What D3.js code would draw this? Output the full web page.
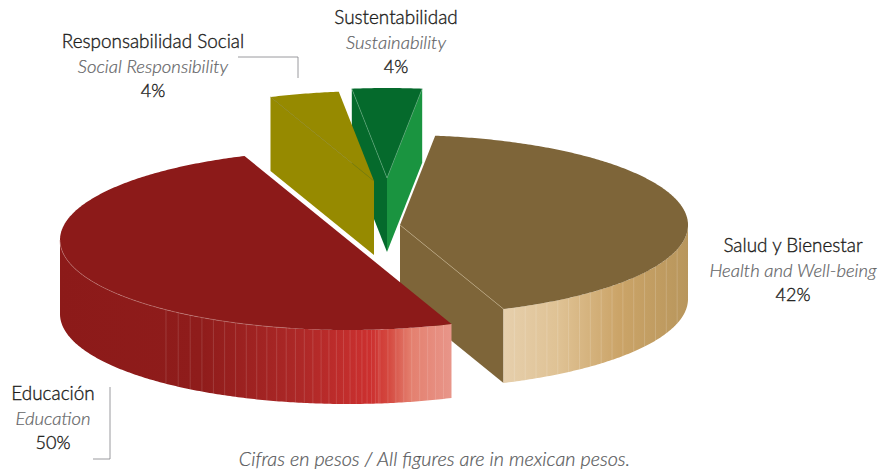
<!DOCTYPE html>
<html>
<head>
<meta charset="utf-8">
<script src="https://cdn.jsdelivr.net/npm/d3@7"></script>
<style>
  html, body { margin: 0; padding: 0; background: #fff; }
  svg { display: block; }
  text { font-family: Lato, "Open Sans", sans-serif; }
  .name { font-size: 18.9px; fill: #1d1d1b; font-weight: 300; stroke: #1d1d1b; stroke-width: 0.35px; }
  .english { font-size: 18.5px; fill: #636466; font-style: italic; font-weight: 300; stroke: #636466; stroke-width: 0.2px; }
  .share { font-size: 18px; fill: #1d1d1b; font-weight: 300; stroke: #1d1d1b; stroke-width: 0.35px; }
  .note { font-size: 19.8px; fill: #58595b; font-style: italic; font-weight: 300; stroke: #58595b; stroke-width: 0.2px; }
</style>
</head>
<body>
<svg id="chart" width="882" height="470"></svg>
<script>
var categories = ["Sustentabilidad", "Salud y Bienestar", "Educación", "Responsabilidad Social"];
var englishNames = ["Sustainability", "Health and Well-being", "Education", "Social Responsibility"];
var shares = [3.9, 42.2, 50, 3.9];
var footNote = "Cifras en pesos / All figures are in mexican pesos.";

// look of the slices
var topColors = ["#056a2c", "#7e6539", "#8c1a19", "#968a00"];
var faceColors = [["#056a2c", "#1a9440"], ["#7e6539", "#7e6539"], ["#8c1a19", "#8c1a19"], ["#968a00", "#968a00"]];
var edgeLines = ["#5fa87a", "#c4b08a", "#8c1a19", "#7f7a10"];
var sliceCenters = [[387, 178], [400, 225], [348, 240], [374, 181]];
var drawOrder = [0, 3, 1, 2];
var labelSpots = [[396, 24], [793, 252], [53, 400], [153, 48]];

var rx = 288, ry = 90, depth = 74;
var svg = d3.select("#chart");
var defs = svg.append("defs");

var arcs = d3.pie().sort(null).value(function(d) { return d; })
  .startAngle(-7.02 * Math.PI / 180)
  .endAngle((360 - 7.02) * Math.PI / 180)(shares);

var line = d3.line();

function project(c, t, drop) {
  return [c[0] + rx * Math.sin(t), c[1] - ry * Math.cos(t) + (drop || 0)];
}

function arcPoints(c, t0, t1, drop) {
  var n = Math.max(2, Math.ceil(Math.abs(t1 - t0) / 0.01));
  return d3.range(n + 1).map(function(i) {
    return project(c, t0 + (t1 - t0) * i / n, drop);
  });
}

// rim lines are spaced on the screen, u = sin(angle), front half of the pie only
function uToAngle(u) { return Math.PI - Math.asin(u); }

function saludBreaks(a) {
  var s = d3.scaleLinear().domain([0, 17]).range([Math.sin(a.endAngle), 1]);
  return d3.range(18).map(s);
}

function educacionBreaks(a) {
  var right = d3.scaleLinear().domain([0, 9]).range([Math.sin(a.startAngle), 0.111]);
  var left = d3.scalePow().exponent(1.5).domain([0, 26]).range([0.111, -0.632]);
  return d3.range(9).map(right).concat(d3.range(27).map(left)).concat([-1]);
}

var saludColor = d3.scaleLinear()
  .domain([0.36, 0.55, 0.76, 1])
  .range(["#e6cfac", "#dfc294", "#cba468", "#b8965c"]);

var educacionColor = d3.scaleLinear()
  .domain([0.36, 0.22, 0.14, 0.08, -0.167, -0.514, -1])
  .range(["#e8968a", "#e4806f", "#d4483f", "#cc302f", "#ad2827", "#8f1c1b", "#8c1a19"]);

var rims = { 1: [saludBreaks, saludColor, 0.24], 2: [educacionBreaks, educacionColor, 0.2] };

function rimGradient(idx, c, color) {
  var grad = defs.append("linearGradient")
    .attr("id", "rim" + idx)
    .attr("gradientUnits", "userSpaceOnUse")
    .attr("x1", c[0] - rx).attr("y1", 0)
    .attr("x2", c[0] + rx).attr("y2", 0);
  grad.selectAll("stop")
    .data(color.domain().slice().sort(d3.ascending))
    .enter()
    .append("stop")
    .attr("offset", function(u) { return (u + 1) / 2; })
    .attr("stop-color", function(u) { return color(u); });
  return "url(#rim" + idx + ")";
}

drawOrder.forEach(function(idx) {
  var a = arcs[idx], c = sliceCenters[idx];
  var g = svg.append("g").attr("class", "slice");

  // straight cut faces, only those that turn towards the viewer
  [[a.startAngle, 0], [a.endAngle, 1]].forEach(function(edge) {
    var t = edge[0];
    var facing = edge[1] === 0 ? -Math.sin(t) : Math.sin(t);
    if (facing > 0) {
      g.append("path")
        .attr("d", line([c, project(c, t), project(c, t, depth), [c[0], c[1] + depth]]) + "Z")
        .attr("fill", faceColors[idx][edge[1]]);
    }
  });

  // outer rim
  if (rims[idx]) {
    var breaks = rims[idx][0](a);
    var t0 = uToAngle(breaks[0]), t1 = uToAngle(breaks[breaks.length - 1]);
    g.append("path")
      .attr("d", line(arcPoints(c, t0, t1, 0).concat(arcPoints(c, t1, t0, depth))) + "Z")
      .attr("fill", rimGradient(idx, c, rims[idx][1]));

    g.selectAll("line.hair")
      .data(breaks.slice(1, -1))
      .enter()
      .append("line")
      .attr("class", "hair")
      .attr("x1", function(d) { return project(c, uToAngle(d))[0]; })
      .attr("y1", function(d) { return project(c, uToAngle(d))[1]; })
      .attr("x2", function(d) { return project(c, uToAngle(d))[0]; })
      .attr("y2", function(d) { return project(c, uToAngle(d), depth)[1]; })
      .attr("stroke", "#fff")
      .attr("stroke-opacity", rims[idx][2])
      .attr("stroke-width", 0.7);
  }

  // top face
  g.append("path")
    .attr("d", line([c].concat(arcPoints(c, a.startAngle, a.endAngle, 0))) + "Z")
    .attr("fill", topColors[idx]);

  // thin line where a top face meets its cut face
  [a.startAngle, a.endAngle].forEach(function(t, k) {
    if ((k === 0 && Math.sin(t) < 0) || (k === 1 && Math.sin(t) > 0)) {
      g.append("path")
        .attr("d", line([c, project(c, t)]))
        .attr("stroke", edgeLines[idx])
        .attr("stroke-width", 0.6)
        .attr("fill", "none");
    }
  });

  if (idx === 2) {
    g.append("path")
      .attr("d", line(arcPoints(c, uToAngle(-0.2), uToAngle(-1), 0)))
      .attr("fill", "none")
      .attr("stroke", "#c98a86")
      .attr("stroke-width", 0.5);
  }
});

// leader lines
svg.append("path").attr("d", line([[238, 57], [298, 57], [298, 78]]))
  .attr("fill", "none").attr("stroke", "#808285").attr("stroke-width", 0.8);
svg.append("path").attr("d", line([[110, 387], [110, 459], [93, 459]]))
  .attr("fill", "none").attr("stroke", "#808285").attr("stroke-width", 0.8);

// labels
var labels = svg.selectAll("g.label")
  .data(categories)
  .enter()
  .append("g")
  .attr("class", "label")
  .attr("text-anchor", "middle")
  .attr("transform", function(d, i) { return "translate(" + labelSpots[i] + ")"; });

labels.append("text").attr("class", "name").text(function(d) { return d; });
labels.append("text").attr("class", "english").attr("y", 24.5)
  .text(function(d, i) { return englishNames[i]; });
labels.append("text").attr("class", "share").attr("y", 48.5)
  .text(function(d, i) { return d3.format(".0f")(shares[i]) + "%"; });

svg.append("text").attr("class", "note")
  .attr("x", 434.5).attr("y", 466)
  .attr("text-anchor", "middle")
  .text(footNote);
</script>
</body>
</html>
